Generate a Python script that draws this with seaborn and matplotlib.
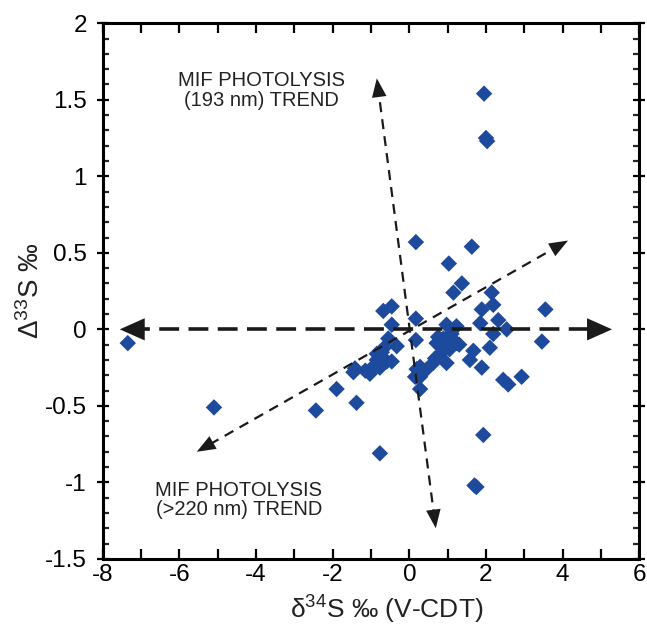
import numpy as np
import pandas as pd
import matplotlib
matplotlib.use("Agg")
import matplotlib.pyplot as plt
import seaborn as sns

# ---- data ----
d34S = [-7.35, -5.10, -2.44, -1.90, -1.38, -0.77, 1.95, 2.00, 2.03, 0.17, 1.63, 1.03,
        1.37, 1.15, 2.15, 2.19, 1.89, 3.55, 1.85, 2.32, 2.54, 2.19, 3.46, 1.93, 1.70,
        1.75, 2.45, 2.58, 2.93, 1.89, 2.10, 1.67, 1.58,
        -0.68, -0.46, -0.46, -0.55, -0.33, -0.68, -0.72, -0.85, -0.59, -0.46, -0.77,
        -0.95, -1.03, -1.42, -1.46, -0.85, -1.15,
        0.17, 0.17, 0.28, 0.19, 0.41, 0.28, 0.15, 0.28, 0.62, 0.97, 0.67, 0.71, 0.80,
        0.89, 1.06, 1.23, 0.88, 0.97, 1.23, 0.97, 0.75, 1.05, 1.30, 0.85, 1.10]
D33S = [-0.09, -0.51, -0.53, -0.39, -0.48, -0.81, 1.54, 1.25, 1.23, 0.57, 0.54, 0.43,
        0.30, 0.24, 0.24, 0.16, 0.13, 0.13, 0.04, 0.06, 0.00, -0.03, -0.08, -0.69, -1.02,
        -1.03, -0.33, -0.36, -0.31, -0.25, -0.12, -0.14, -0.20,
        0.12, 0.15, 0.03, -0.06, -0.11, -0.125, -0.15, -0.20, -0.21, -0.21, -0.25,
        -0.245, -0.29, -0.255, -0.28, -0.16, -0.27,
        0.07, -0.07, -0.245, -0.26, -0.27, -0.31, -0.31, -0.39, -0.22, -0.22, -0.19,
        -0.09, -0.11, -0.06, -0.07, -0.09, -0.11, 0.03, 0.02, -0.06, -0.05, -0.13,
        -0.10, -0.15, -0.03]

# trend arrows (start, end) in data units
trend_horizontal = [(-7.56, 0.0), (5.29, 0.0)]
trend_193 = [(0.69, -1.30), (-0.85, 1.64)]
trend_220 = [(4.14, 0.58), (-5.55, -0.80)]

label_193 = "MIF PHOTOLYSIS\n(193 nm) TREND"
label_220 = "MIF PHOTOLYSIS\n(>220 nm) TREND"
label_193_pos = (-3.85, 1.56)
label_220_pos = (-4.45, -1.115)

x_ticks = [-8, -6, -4, -2, 0, 2, 4, 6]
y_ticks = [-1.5, -1, -0.5, 0, 0.5, 1, 1.5, 2]

df = pd.DataFrame({"d34S": d34S, "D33S": D33S})

sns.set_style("white")
plt.rcParams["font.family"] = ["Liberation Sans", "DejaVu Sans"]
plt.rcParams["axes.unicode_minus"] = False
plt.rcParams["mathtext.fontset"] = "custom"
plt.rcParams["mathtext.rm"] = "Liberation Sans"

fig = plt.figure(figsize=(6.47, 6.28), dpi=100)
ax = fig.add_axes([0.159, 0.110, 0.829, 0.853])

line_col = "#1a1a1a"


def draw_trend(p0, p1, lw, dashes, head_ms, hl, hw):
    (x0, y0), (x1, y1) = p0, p1
    f = 0.02
    xs = [x0 + (x1 - x0) * f, x1 - (x1 - x0) * f]
    ys = [y0 + (y1 - y0) * f, y1 - (y1 - y0) * f]
    ax.plot(xs, ys, color=line_col, lw=lw, dashes=dashes, zorder=3,
            solid_capstyle="butt", dash_capstyle="butt")
    for (tx, ty), (bx, by) in (((x1, y1), (x0, y0)), ((x0, y0), (x1, y1))):
        ax.annotate("", xy=(tx, ty), xytext=(tx + (bx - tx) * 0.1, ty + (by - ty) * 0.1),
                    arrowprops=dict(arrowstyle=f"-|>,head_length={hl},head_width={hw}",
                                    color=line_col, lw=0, shrinkA=0, shrinkB=0,
                                    mutation_scale=head_ms), zorder=4)


sns.scatterplot(data=df, x="d34S", y="D33S", marker="D", s=70, color="#1d4a9c",
                edgecolor="none", linewidth=0, ax=ax, zorder=2, legend=False)

draw_trend(*trend_horizontal, lw=2.6, dashes=(5.5, 2.6), head_ms=20, hl=0.9, hw=0.4)
draw_trend(*trend_193, lw=1.6, dashes=(4.5, 3.2), head_ms=15, hl=0.9, hw=0.35)
draw_trend(*trend_220, lw=1.6, dashes=(4.5, 3.2), head_ms=15, hl=0.9, hw=0.35)

ax.text(*label_193_pos, label_193, ha="center", va="center", fontsize=14.5,
        color="#222222", linespacing=1.05)
ax.text(*label_220_pos, label_220, ha="center", va="center", fontsize=14.5,
        color="#222222", linespacing=1.05)

ax.set_xlim(-8, 6)
ax.set_ylim(-1.5, 2)
ax.set_xticks(x_ticks)
ax.set_xticklabels([f"{t:g}" for t in x_ticks])
ax.set_yticks(y_ticks)
ax.set_yticklabels([f"{t:g}" for t in y_ticks])
ax.set_xticks(np.arange(-8, 7, 1), minor=True)
ax.set_yticks(np.arange(-1.5, 2.01, 0.1), minor=True)

for s in ax.spines.values():
    s.set_visible(True)
    s.set_linewidth(2.2)
    s.set_color("black")

ax.tick_params(axis="x", which="both", direction="in", length=7, width=1.6,
               top=True, bottom=True, labelsize=17.5, pad=4, colors="black")
ax.tick_params(axis="y", which="major", direction="inout", length=9, width=1.6,
               left=True, right=True, labelsize=17.5, pad=7, colors="black")
ax.tick_params(axis="y", which="minor", direction="in", length=4, width=1.6,
               left=True, right=True)

ax.set_xlabel(r"$\mathregular{\delta^{34}}$S ‰ (V-CDT)", fontsize=19,
              color="#222222")
ax.set_ylabel(r"$\mathregular{\Delta^{33}}$S ‰", fontsize=20,
              color="#222222")
ax.xaxis.set_label_coords(0.53, -0.066)
ax.yaxis.set_label_coords(-0.108, 0.5)

fig.savefig("out.png", dpi=100)
